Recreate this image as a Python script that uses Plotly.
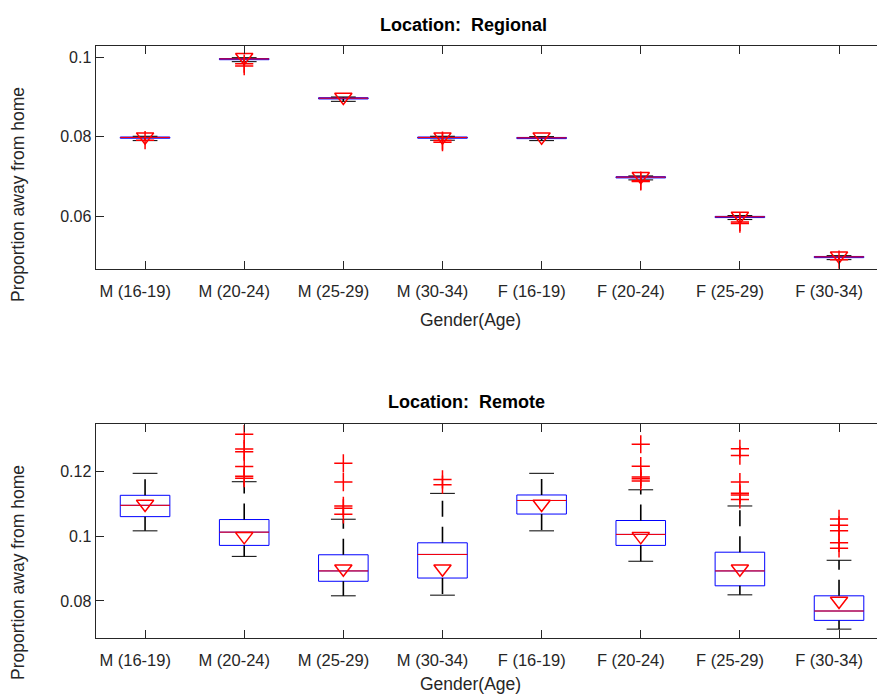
import plotly.graph_objects as go

# ---------------- data ----------------
categories = ["M (16-19)", "M (20-24)", "M (25-29)", "M (30-34)",
              "F (16-19)", "F (20-24)", "F (25-29)", "F (30-34)"]
positions = [1, 2, 3, 4, 5, 6, 7, 8]

# Regional panel
reg_median = [0.0798, 0.0996, 0.0897, 0.0798, 0.0797, 0.0698, 0.0598, 0.0497]
reg_q1 = [0.0796, 0.0994, 0.0895, 0.0796, 0.0795, 0.0696, 0.0596, 0.0495]
reg_q3 = [0.0799, 0.0997, 0.0898, 0.0799, 0.0798, 0.0699, 0.0599, 0.0498]
reg_low = [0.0790, 0.0989, 0.0889, 0.0791, 0.0790, 0.0691, 0.0591, 0.0490]
reg_high = [0.0801, 0.0999, 0.0900, 0.0801, 0.0800, 0.0701, 0.0601, 0.0500]
reg_mean = [0.08, 0.10, 0.09, 0.08, 0.08, 0.07, 0.06, 0.05]
reg_out_x = [1, 2, 2, 4, 4, 6, 6, 7, 7, 8]
reg_out_y = [0.0791, 0.0984, 0.0978, 0.0790, 0.0786, 0.0689, 0.0687, 0.0585, 0.0581, 0.0490]

# Remote panel
rem_median = [0.1096, 0.1013, 0.0893, 0.0944, 0.1111, 0.1006, 0.0893, 0.0769]
rem_q1 = [0.1061, 0.0972, 0.0861, 0.0871, 0.1069, 0.0972, 0.0847, 0.0740]
rem_q3 = [0.1127, 0.1052, 0.0943, 0.0980, 0.1128, 0.1049, 0.0951, 0.0816]
rem_low = [0.1017, 0.0938, 0.0816, 0.0818, 0.1017, 0.0923, 0.0819, 0.0713]
rem_high = [0.1195, 0.1169, 0.1053, 0.1133, 0.1195, 0.1144, 0.1094, 0.0926]
rem_mean = [0.11, 0.10, 0.09, 0.09, 0.11, 0.10, 0.09, 0.08]
rem_out_x = [2, 2, 2, 2, 2, 2,
             3, 3, 3, 3, 3,
             4, 4,
             6, 6, 6, 6, 6,
             7, 7, 7, 7, 7, 7,
             8, 8, 8, 8, 8]
rem_out_y = [0.1316, 0.1270, 0.1262, 0.1216, 0.1186, 0.1180,
             0.1226, 0.1168, 0.1094, 0.1087, 0.1068,
             0.1176, 0.1160,
             0.1285, 0.1217, 0.1184, 0.1178, 0.1171,
             0.1271, 0.1250, 0.1168, 0.1133, 0.1128, 0.1114,
             0.1054, 0.1034, 0.1017, 0.0980, 0.0963]

reg_ticks = [0.06, 0.08, 0.1]
reg_ticktext = ["0.06", "0.08", "0.1"]
rem_ticks = [0.08, 0.1, 0.12]
rem_ticktext = ["0.08", "0.1", "0.12"]

titles = ["Location:\u00a0 Regional", "Location:\u00a0 Remote"]
xlabel = "Gender(Age)"
ylabel = "Proportion away from home"

# ---------------- style ----------------
W, H = 877, 694
FONT = "Liberation Sans, Arial, Helvetica, sans-serif"
AX = "#262626"
BOX_W = 0.5
CAP_W = 0.25
RED = "#ff0000"
LABEL_SHIFT = 0.1  # tick labels sit a little left of their ticks in the reference

fig = go.Figure()


def add_panel(xa, ya, xlab, q1, med, q3, low, high, mean, ox, oy):
    # whiskers (dashed, start at box edge)
    wx, wy = [], []
    for p, a, b, c, d in zip(positions, q3, high, q1, low):
        wx += [p, p, None, p, p, None]
        wy += [a, b, None, c, d, None]
    fig.add_trace(go.Scatter(x=wx, y=wy, mode="lines", xaxis=xa, yaxis=ya,
                             line=dict(color="black", width=1.6, dash="16px,10px"),
                             hoverinfo="skip", showlegend=False))
    # caps
    cx, cy = [], []
    for p, b, d in zip(positions, high, low):
        cx += [p - CAP_W / 2, p + CAP_W / 2, None, p - CAP_W / 2, p + CAP_W / 2, None]
        cy += [b, b, None, d, d, None]
    fig.add_trace(go.Scatter(x=cx, y=cy, mode="lines", xaxis=xa, yaxis=ya,
                             line=dict(color="black", width=1),
                             hoverinfo="skip", showlegend=False))
    # boxes
    fig.add_trace(go.Box(x=positions, q1=q1, median=med, q3=q3,
                         lowerfence=q1, upperfence=q3, width=BOX_W,
                         whiskerwidth=0, boxpoints=False,
                         fillcolor="rgba(0,0,0,0)",
                         line=dict(color="#0000ff", width=1),
                         xaxis=xa, yaxis=ya, showlegend=False, hoverinfo="skip"))
    # medians
    mx, my = [], []
    for p, m in zip(positions, med):
        mx += [p - BOX_W / 2, p + BOX_W / 2, None]
        my += [m, m, None]
    fig.add_trace(go.Scatter(x=mx, y=my, mode="lines", xaxis=xa, yaxis=ya,
                             line=dict(color=RED, width=1),
                             hoverinfo="skip", showlegend=False))
    # outliers
    fig.add_trace(go.Scatter(x=ox, y=oy, mode="markers", xaxis=xa, yaxis=ya,
                             marker=dict(symbol="cross-thin-open", size=13, color=RED,
                                         line=dict(color=RED, width=1.5)),
                             hoverinfo="skip", showlegend=False))
    # means
    fig.add_trace(go.Scatter(x=positions, y=mean, mode="markers", xaxis=xa, yaxis=ya,
                             marker=dict(symbol="triangle-down-open", size=15,
                                         color=RED,
                                         line=dict(color=RED, width=1.5)),
                             hoverinfo="skip", showlegend=False))
    # invisible trace that keeps the label axis alive
    fig.add_trace(go.Scatter(x=positions, y=med, mode="markers", xaxis=xlab, yaxis=ya,
                             marker=dict(opacity=0, size=1),
                             hoverinfo="skip", showlegend=False))


add_panel("x", "y", "x3", reg_q1, reg_median, reg_q3, reg_low, reg_high, reg_mean,
          reg_out_x, reg_out_y)
add_panel("x2", "y2", "x4", rem_q1, rem_median, rem_q3, rem_low, rem_high, rem_mean,
          rem_out_x, rem_out_y)


def px_x(v):
    return v / W


def px_y(v):
    return 1 - v / H


xr = [0.5, 8.383]
xdomain = [px_x(95.5), 1]
xcommon = dict(range=xr, tickmode="array", tickvals=positions, showticklabels=False,
               ticks="inside", ticklen=8, tickwidth=1, tickcolor=AX,
               showline=True, linecolor=AX, linewidth=1, mirror="allticks",
               showgrid=False, zeroline=False, domain=xdomain)
xlabcommon = dict(range=[xr[0] + LABEL_SHIFT, xr[1] + LABEL_SHIFT], tickmode="array",
                  tickvals=positions, ticktext=categories, ticks="",
                  showline=False, showgrid=False, zeroline=False, domain=xdomain,
                  tickfont=dict(family=FONT, size=16.5, color=AX),
                  ticklabelstandoff=10, ticklabeloverflow="allow")
ycommon = dict(ticks="inside", ticklen=8, tickwidth=1, tickcolor=AX,
               showline=True, linecolor=AX, linewidth=1, mirror=False,
               showgrid=False, zeroline=False, tickmode="array",
               tickfont=dict(family=FONT, size=16, color=AX),
               ticklabelstandoff=0)

fig.update_layout(
    width=W, height=H,
    margin=dict(l=0, r=0, t=0, b=0, autoexpand=False),
    paper_bgcolor="white", plot_bgcolor="white",
    showlegend=False,
    xaxis=dict(anchor="y", **xcommon),
    yaxis=dict(anchor="x", domain=[px_y(269), px_y(46)], range=[0.04664, 0.10285],
               tickvals=reg_ticks, ticktext=reg_ticktext, **ycommon),
    xaxis2=dict(anchor="y2", **xcommon),
    yaxis2=dict(anchor="x2", domain=[px_y(638), px_y(424)], range=[0.06855, 0.13476],
                tickvals=rem_ticks, ticktext=rem_ticktext, **ycommon),
    xaxis3=dict(anchor="y", overlaying="x", **xlabcommon),
    xaxis4=dict(anchor="y2", overlaying="x2", **xlabcommon),
)

annots = []
for t, (tx, ty) in zip(titles, [(464, 25), (466, 402)]):
    annots.append(dict(text="<b>" + t + "</b>", x=px_x(tx), y=px_y(ty), xref="paper", yref="paper",
                       showarrow=False, xanchor="center", yanchor="middle",
                       font=dict(family=FONT, size=18, color="black")))
for ty in [320, 684]:
    annots.append(dict(text=xlabel, x=px_x(470), y=px_y(ty), xref="paper", yref="paper",
                       showarrow=False, xanchor="center", yanchor="middle",
                       font=dict(family=FONT, size=17.5, color=AX)))
for ty in [195, 573]:
    annots.append(dict(text=ylabel, x=px_x(18), y=px_y(ty), xref="paper", yref="paper",
                       showarrow=False, xanchor="center", yanchor="middle", textangle=-90,
                       font=dict(family=FONT, size=17.5, color=AX)))
fig.update_layout(annotations=annots)

fig.write_html("out.html")
